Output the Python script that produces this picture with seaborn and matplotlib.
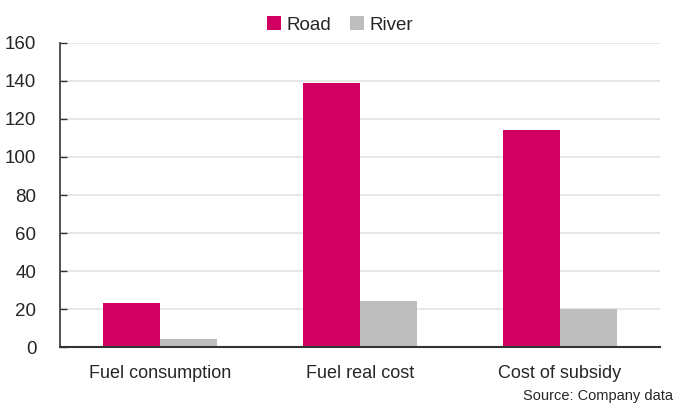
import matplotlib
matplotlib.use("Agg")
import matplotlib.pyplot as plt
import seaborn as sns
import pandas as pd
from matplotlib.patches import Patch

categories = ["Fuel consumption", "Fuel real cost", "Cost of subsidy"]
road = [23, 139, 114]
river = [4, 24, 20]
series_names = ["Road", "River"]
y_ticks = [0, 20, 40, 60, 80, 100, 120, 140, 160]

colors = {"Road": "#D10060", "River": "#BEBEBE"}

df = pd.DataFrame({
    "category": categories * 2,
    "series": ["Road"] * len(road) + ["River"] * len(river),
    "value": road + river,
})

sns.set_theme(style="white")
plt.rcParams["font.family"] = ["Liberation Sans Narrow", "Liberation Sans", "DejaVu Sans"]

fig = plt.figure(figsize=(6.74, 4.05), dpi=100)
ax = fig.add_axes([0.089, 0.143, 0.89, 0.751])

sns.barplot(data=df, x="category", y="value", hue="series", order=categories,
            hue_order=series_names, palette=colors, width=0.57, gap=0,
            saturation=1, linewidth=0, ax=ax, legend=False)

ax.set_xlim(-0.5, 2.5)
ax.set_ylim(0, 160)
ax.set_yticks(y_ticks)
ax.set_yticklabels([str(t) for t in y_ticks], fontsize=13.5)
ax.tick_params(axis="y", direction="in", length=5, width=1, color="#333333",
               left=True, pad=17)
ax.tick_params(axis="x", length=0, labelsize=13, pad=13)
ax.set_xlabel("")
ax.set_ylabel("")

ax.yaxis.grid(True, color="#E3E3E3", linewidth=1.2)
ax.set_axisbelow(True)
for side in ["top", "right"]:
    ax.spines[side].set_visible(False)
ax.spines["left"].set_color("#333333")
ax.spines["left"].set_linewidth(1.2)
ax.spines["bottom"].set_color("#333333")
ax.spines["bottom"].set_linewidth(1.5)

handles = [Patch(facecolor=colors[s], edgecolor="none") for s in series_names]
fig.legend(handles, series_names, loc="center", bbox_to_anchor=(0.505, 0.938),
           ncol=2, frameon=False, fontsize=13.5, handlelength=0.75, handleheight=0.75,
           handletextpad=0.3, columnspacing=1.0)

fig.text(0.998, 0.004, "Source: Company data", ha="right", va="bottom", fontsize=10.5)

fig.savefig("out.png", dpi=100)
